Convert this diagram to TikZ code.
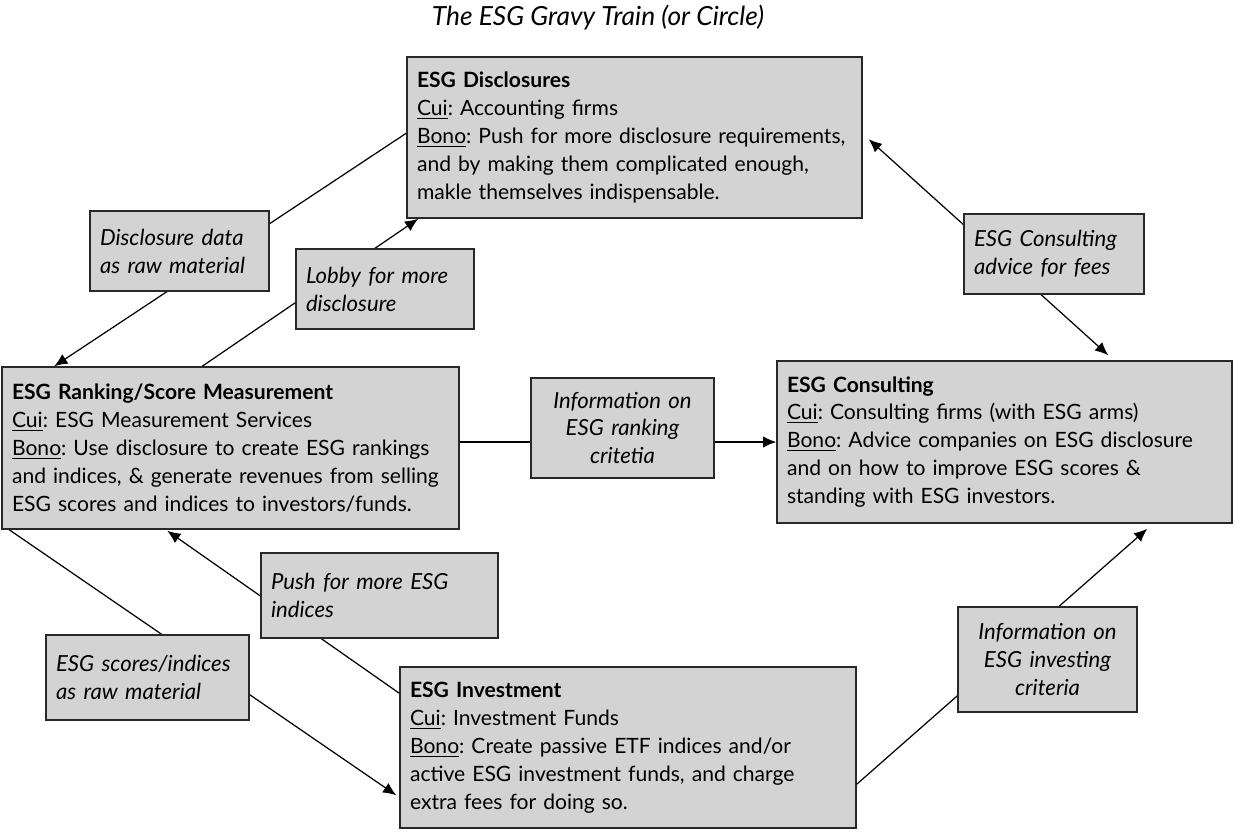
\documentclass[tikz,border=0pt]{standalone}
\usepackage{fontspec}
\setmainfont{Lato}
\usetikzlibrary{arrows.meta, calc}

\definecolor{boxgray}{RGB}{211,211,211}
\definecolor{boxline}{RGB}{40,40,40}

\tikzset{
 mainbox/.style={draw=boxline, line width=0.9pt, fill=boxgray, inner xsep=0.2cm, text width=#1, minimum height=3.22cm, align=left, font=\fontsize{12}{15.9}\selectfont},
 notebox/.style={draw=boxline, line width=0.9pt, fill=boxgray, inner xsep=0.2cm, text width=#1, minimum height=1.6cm, align=left, font=\fontsize{12.6}{15.9}\selectfont\itshape},
 link/.style={line width=0.7pt, >={Latex[length=7.5pt, width=6.5pt]}}
}

\begin{document}
\frenchspacing
\begin{tikzpicture}[x=0.02cm, y=-0.02cm]
\useasboundingbox (0,0) rectangle (1235,832);
\node[font=\fontsize{15}{18}\selectfont\itshape](title) at (598,18){The ESG Gravy Train (or Circle)};
\node[mainbox=8.7cm](disc) at (634.5,137.5){\textbf{ESG Disclosures}\\ \underline{Cui}: Accounting firms\\ \underline{Bono}: Push for more disclosure requirements,\\ and by making them complicated enough,\\ makle themselves indispensable.};
\node[mainbox=8.74cm, minimum height=3.24cm](rank) at (230.5,448){\textbf{ESG Ranking/Score Measurement}\\ \underline{Cui}: ESG Measurement Services\\ \underline{Bono}: Use disclosure to create ESG rankings\\ and indices, \& generate revenues from selling\\ ESG scores and indices to investors/funds.};
\node[mainbox=8.7cm, minimum height=3.24cm](cons) at (1004.5,442){\textbf{ESG Consulting}\\ \underline{Cui}: Consulting firms (with ESG arms)\\ \underline{Bono}: Advice companies on ESG disclosure\\ and on how to improve ESG scores \&\\ standing with ESG investors.};
\node[mainbox=8.72cm](inv) at (628,747.5){\textbf{ESG Investment}\\ \underline{Cui}: Investment Funds\\ \underline{Bono}: Create passive ETF indices and/or\\ active ESG investment funds, and charge\\ extra fees for doing so.};
\draw[link, ->] ($(disc.north west)+(0,77)$) -- ($(rank.north west)+(53,0)$);
\draw[link, ->] ($(rank.north west)+(201,0)$) -- ($(disc.south west)+(12,0)$);
\draw[link, <->] ($(disc.north east)+(6,83)$) -- ($(cons.north west)+(332,-5)$);
\draw[link, ->] (rank.east |- cons.west) -- (cons.west);
\draw[link, ->] ($(inv.north west)+(0,27)$) -- ($(rank.south west)+(166,1)$);
\draw[link, ->] ($(rank.south west)+(8,0)$) -- ($(inv.north west)+(-3,129)$);
\draw[link, ->] ($(inv.north east)+(0,118)$) -- ($(cons.south west)+(371,5)$);
\node[notebox=3.18cm](rawdata) at (179.5,251){Disclosure data\\ as raw material};
\node[notebox=3.16cm](lobby) at (385,289){Lobby for more\\ disclosure};
\node[notebox=3.26cm, minimum height=2cm, align=center](rankinfo) at (622.5,428){Information on\\ ESG ranking\\ critetia};
\node[notebox=3.2cm](advice) at (1054,254){ESG Consulting\\ advice for fees};
\node[notebox=4.34cm, minimum height=1.7cm](push) at (379.5,595.5){Push for more ESG\\ indices};
\node[notebox=3.66cm, minimum height=1.7cm](rawscores) at (147.5,677.5){ESG scores/indices\\ as raw material};
\node[notebox=3.18cm, minimum height=2.1cm, align=center](investinfo) at (1047.5,659.5){Information on\\ ESG investing\\ criteria};
\end{tikzpicture}
\end{document}
